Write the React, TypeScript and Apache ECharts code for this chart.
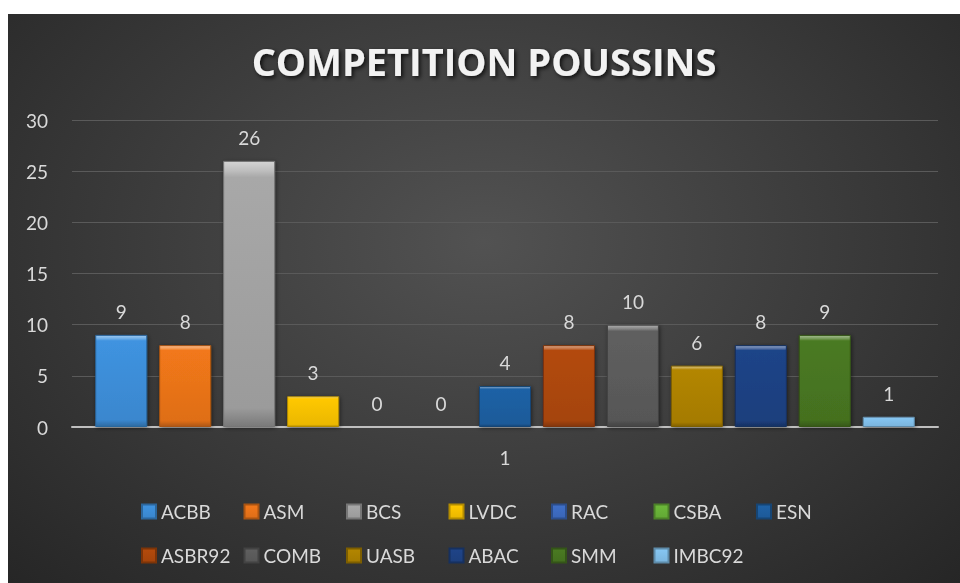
import React, { useEffect, useRef } from "react";
import * as echarts from "echarts";

const categories = ["1"];
const clubs = ["ACBB", "ASM", "BCS", "LVDC", "RAC", "CSBA", "ESN", "ASBR92", "COMB", "UASB", "ABAC", "SMM", "IMBC92"];
const values = [9, 8, 26, 3, 0, 0, 4, 8, 10, 6, 8, 9, 1];
const legendColumns = 7;

const palette = ["#3f93e0", "#f2781a", "#a8a8a8", "#ffc800", "#3f6fc8", "#6cb83a", "#1f62a6", "#b34a0c", "#5f5f5f", "#b38600", "#1f4488", "#4a7a22", "#86c6f2"];

const FONT = "Lato, 'Open Sans', sans-serif";

function shade(hex: string, f: number): string {
  const n = parseInt(hex.slice(1), 16);
  let r = (n >> 16) & 255, g = (n >> 8) & 255, b = n & 255;
  const adj = (c: number) => f >= 0 ? Math.round(c + (255 - c) * f) : Math.round(c * (1 + f));
  r = adj(r); g = adj(g); b = adj(b);
  return "#" + ((1 << 24) + (r << 16) + (g << 8) + b).toString(16).slice(1);
}

function barColor(c: string) {
  return {
    type: "linear", x: 0, y: 0, x2: 0, y2: 1,
    colorStops: [
      { offset: 0, color: shade(c, 0.5) },
      { offset: 0.035, color: shade(c, 0.25) },
      { offset: 0.06, color: c },
      { offset: 0.93, color: shade(c, -0.08) },
      { offset: 1, color: shade(c, -0.28) },
    ],
  };
}

export default function App() {
  const ref = useRef<HTMLDivElement>(null);
  useEffect(() => {
    if (!ref.current) return;
    const chart = echarts.init(ref.current, null, { renderer: "svg" });
    const legends = clubs.map((name, i) => ({
      data: [name],
      icon: "rect",
      itemWidth: 14,
      itemHeight: 14,
      selectedMode: false,
      left: 128 + (i % legendColumns) * 102.5,
      top: i < legendColumns ? 483 : 527,
      textStyle: { color: "#d9d9d9", fontSize: 19, fontFamily: FONT },
    }));
    chart.setOption({
      animation: false,
      backgroundColor: "transparent",
      title: {
        text: "COMPETITION POUSSINS",
        left: "center",
        top: 23,
        textStyle: {
          color: "#f2f2f2",
          fontSize: 38,
          fontWeight: "bold",
          fontFamily: "'Open Sans', sans-serif",
          textShadowColor: "rgba(0,0,0,0.75)",
          textShadowBlur: 4,
          textShadowOffsetX: 2,
          textShadowOffsetY: 2,
        },
      },
      legend: legends,
      grid: { left: 64, right: 22, top: 106, bottom: 156 },
      xAxis: {
        type: "category",
        data: categories,
        axisLine: { lineStyle: { color: "#bfbfbf", width: 2 } },
        axisTick: { show: false },
        axisLabel: { color: "#d9d9d9", fontSize: 19, fontFamily: FONT, margin: 21 },
      },
      yAxis: {
        type: "value",
        min: 0,
        max: 30,
        interval: 5,
        axisLine: { show: false },
        axisTick: { show: false },
        splitLine: { lineStyle: { color: "#5a5a5a", width: 1 } },
        axisLabel: { color: "#d9d9d9", fontSize: 19, fontFamily: FONT, margin: 24 },
      },
      series: clubs.map((name, i) => ({
        type: "bar",
        name,
        data: [values[i]],
        barWidth: 52,
        barGap: "23%",
        itemStyle: {
          color: barColor(palette[i]),
          borderColor: shade(palette[i], -0.3),
          borderWidth: 1,
          shadowColor: "rgba(0,0,0,0.5)",
          shadowBlur: 4,
          shadowOffsetX: 1,
          shadowOffsetY: 1,
        },
        label: {
          show: true,
          position: "top",
          distance: 14,
          color: "#d9d9d9",
          fontSize: 19,
          fontFamily: FONT,
        },
      })),
    });
    return () => chart.dispose();
  }, []);
  return (
    <div
      ref={ref}
      style={{
        position: "fixed",
        left: 8,
        top: 14,
        width: 952,
        height: 569,
        background: "radial-gradient(ellipse at 50% 40%, #525252 0%, #3c3c3c 50%, #262626 100%)",
      }}
    />
  );
}
